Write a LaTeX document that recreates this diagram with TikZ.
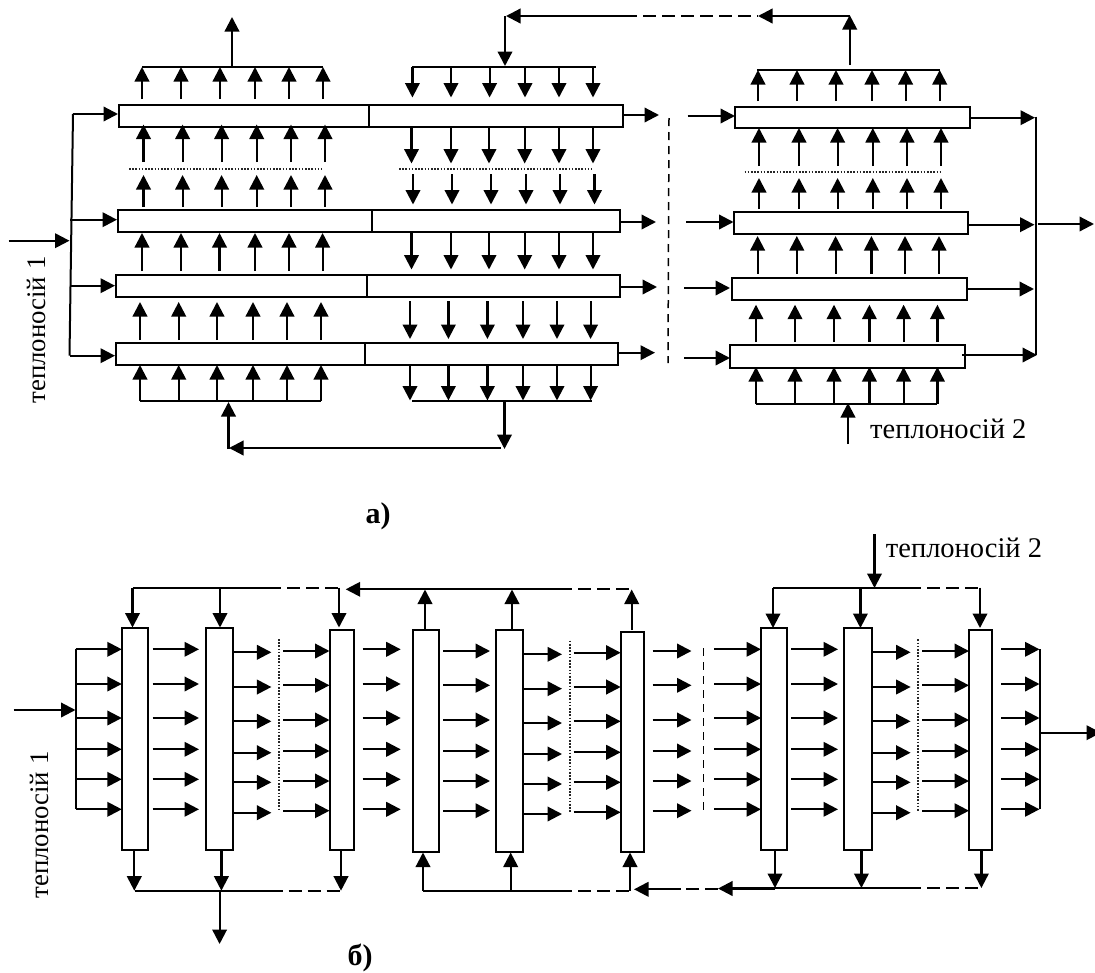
\documentclass[tikz,border=0pt]{standalone}
\usepackage{fontspec}
\setmainfont{Liberation Serif}
\usetikzlibrary{arrows.meta}
\newcounter{cn}
\tikzset{
  flowarrow/.style={line width=2.2pt,-{Triangle[length=14.5pt,width=14.5pt]}},
  wire/.style={line width=2.1pt},
  thinwire/.style={line width=2pt},
  brokenwire/.style={line width=1.7pt,dash pattern=on 13pt off 6pt},
  splitline/.style={line width=1.5pt,dash pattern=on 8pt off 6pt},
  dotline/.style={line width=1.3pt,dash pattern=on 1.6pt off 1.6pt,black!85},
  unitbox/.style={draw,line width=2pt,fill=white,inner sep=0pt,outer sep=0pt,rectangle},
  plabel/.style={font=\fontsize{28.5}{30}\selectfont,inner sep=0pt},
  rlabel/.style={font=\fontsize{26.8}{30}\selectfont,inner sep=0pt,rotate=90},
  blabel/.style={font=\fontsize{30}{32}\selectfont\bfseries,inner sep=0pt}
}
% named box from corner coordinates
\newcommand{\unit}[5]{%
  \pgfmathsetmacro{\ww}{#4-#2}\pgfmathsetmacro{\hh}{#5-#3}%
  \pgfmathsetmacro{\cx}{(#4+#2)/2}\pgfmathsetmacro{\cy}{(#5+#3)/2}%
  \node[unitbox,minimum width=\ww pt,minimum height=\hh pt] (#1) at (\cx,\cy) {};}
% connector between two named free ends
\newcommand{\conn}[5]{%
  \stepcounter{cn}%
  \coordinate (s\thecn) at (#2,#3);\coordinate (e\thecn) at (#4,#5);%
  \draw[#1] (s\thecn) -- (e\thecn);}
\newcommand{\vflow}[3]{\edef\vlist{#1}\foreach \x in \vlist {\conn{flowarrow}{\x}{#2}{\x}{#3}}}
\newcommand{\hflow}[3]{\edef\hlist{#3}\foreach \y in \hlist {\conn{flowarrow}{#1}{\y}{#2}{\y}}}
\begin{document}
\begin{tikzpicture}[x=1pt,y=-1pt]
\path[use as bounding box,fill=white] (0,0) rectangle (1095,972);
% ---------- panel a, left block
\unit{aa}{119}{105}{368.5}{127}\unit{ab}{368.5}{105}{623}{127}
\unit{ac}{118}{210}{372}{231.5}\unit{ad}{372}{210}{620}{231.5}
\unit{ae}{116}{275}{367}{297}\unit{af}{367}{275}{620}{297}
\unit{ag}{116}{343}{365}{364.5}\unit{ah}{365}{343}{617.5}{364.5}
\def\xa{142,181,220,255,289,323}
\vflow{\xa}{99}{67}
\conn{wire}{142}{67}{323}{67}
\conn{flowarrow}{232}{67}{232}{17}
\def\xb{143.5,182.6,221.6,256.7,291,325}
\vflow{\xb}{162}{124.5}
\conn{dotline}{129}{169}{322}{169}
\vflow{\xb}{207}{175}
\vflow{142,181,219.5,255,289,322.6}{271}{233}
\def\xc{140,178.7,217,253,287,321}
\vflow{\xc}{340}{302}
\vflow{\xc}{401}{365}
\conn{wire}{140}{401}{321}{401}
\conn{flowarrow}{228.5}{449}{228.5}{402}
\conn{flowarrow}{501}{448}{229}{448}
\conn{flowarrow}{504.5}{400}{504.5}{449}
% right half of the left block
\vflow{412.4,451,489.6,525,559,593}{67}{97.5}
\conn{wire}{412}{67}{596}{67}
\conn{flowarrow}{505}{16}{505}{66}
\conn{flowarrow}{624}{16}{506}{16}
\conn{brokenwire}{624}{16}{758}{16}
\conn{flowarrow}{850}{16}{758}{16}
\conn{flowarrow}{849.7}{65}{849.7}{15}
\def\xd{411.5,451,489,524.7,559,593}
\vflow{\xd}{126}{163.5}
\conn{dotline}{399}{169}{592}{169}
\vflow{413,452,491,526,560,594.5}{174}{204.5}
\vflow{\xd}{232}{269.5}
\def\xe{410,448.4,487.4,523,557,590.6}
\vflow{\xe}{301}{339}
\vflow{\xe}{365}{400.5}
\conn{wire}{412}{401}{592}{401}
\conn{flowarrow}{623}{115}{659}{115}
\conn{flowarrow}{620}{222}{656}{222}
\conn{flowarrow}{620}{287}{657}{287}
\conn{flowarrow}{618}{352.7}{655}{352.7}
\conn{splitline}{669}{118}{668}{363}
% inlet manifold
\conn{thinwire}{73}{114}{69.5}{355.7}
\conn{flowarrow}{73}{114}{118}{114}
\conn{flowarrow}{70}{219.7}{117}{219.7}
\conn{flowarrow}{69.5}{285.7}{115}{285.7}
\conn{flowarrow}{69.5}{355.7}{115}{355.7}
\conn{flowarrow}{8.7}{240.7}{69.5}{240.7}
\node[rlabel] (ta1) at (36,330) {теплоносій 1};
% ---------- panel a, right block
\unit{ai}{735}{106.7}{970}{128}
\unit{aj}{733.5}{212}{968}{233.7}
\unit{ak}{732}{277.7}{967}{299.7}
\unit{al}{730}{345}{965}{367.7}
\vflow{758,797,836,872,905.6,939.7}{101}{70}
\conn{wire}{757}{70}{940}{70}
\def\xf{759,799,837.6,872.8,907,941}
\vflow{\xf}{166}{128}
\conn{dotline}{744.5}{172}{940}{172}
\vflow{\xf}{209}{178}
\vflow{757.6,796.8,835.6,871.4,905,939}{273.7}{236}
\def\xg{756,795,834,869.4,903.6,937.4}
\vflow{\xg}{342}{304.7}
\vflow{\xg}{403.7}{367}
\conn{wire}{756}{403.7}{937.4}{403.7}
\conn{flowarrow}{848}{444}{848}{403}
\conn{flowarrow}{970}{117.7}{1035}{117.7}
\conn{flowarrow}{968}{224.7}{1034.5}{224.7}
\conn{flowarrow}{967}{289}{1034}{289}
\conn{flowarrow}{962}{355}{1037}{355}
\conn{thinwire}{1035.5}{116.7}{1035.5}{355}
\conn{flowarrow}{1037.5}{224}{1094}{224}
\conn{flowarrow}{687.6}{116}{735}{116}
\conn{flowarrow}{686}{222}{733.5}{222}
\conn{flowarrow}{684}{288}{730}{288}
\conn{flowarrow}{684}{358}{730}{358}
\node[plabel,anchor=base west] (ta2) at (870,438) {теплоносій 2};
\node[blabel] (la) at (378,516) {а)};
% ---------- panel b columns
\unit{b1}{121.8}{628.3}{148}{850.3}
\unit{b2}{205.7}{628.3}{232.9}{850.3}
\unit{b3}{330}{630}{353.6}{850.3}
\unit{b4}{412.9}{630}{439}{852}
\unit{b5}{496.4}{630}{523}{852}
\unit{b6}{620.7}{631.7}{644.4}{852}
\unit{b7}{761}{628.3}{787.4}{850.3}
\unit{b8}{844.4}{628.3}{871.7}{850.3}
\unit{b9}{969}{630}{992.4}{850.3}
% rows of horizontal arrows
\def\ya{649.3,684,718,749.3,779.3,809.3}
\def\yb{652.3,687,721.3,752.7,782.3,812.7}
\def\yc{651,685.3,720,751,781,810.7}
\conn{thinwire}{75.7}{649.3}{75.7}{809.3}
\hflow{75.7}{121.8}{\ya}
\conn{flowarrow}{13.6}{710}{75.5}{710}
\hflow{152.5}{199}{\ya}
\hflow{233}{271.4}{\yb}
\conn{dotline}{279}{639}{279}{811.7}
\hflow{283}{329.5}{\yc}
\hflow{362.5}{400.7}{\ya}
\hflow{443}{490}{\yc}
\hflow{523}{562}{654.3,688.7,723,754,784,814}
\conn{dotline}{570}{640.7}{570}{812.7}
\hflow{573.6}{620.7}{652.7,687,721.3,752.3,782.3,812.3}
\hflow{652.6}{691.5}{\yc}
\conn{splitline}{703.5}{648}{703.5}{810.7}
\hflow{714}{761}{\ya}
\hflow{791.3}{838}{\ya}
\hflow{871.7}{910.6}{\yb}
\conn{dotline}{918}{639.3}{918}{811.7}
\hflow{922}{969}{\yc}
\hflow{1001}{1039.5}{\ya}
\conn{thinwire}{1040}{649.3}{1040}{809.3}
\conn{flowarrow}{1040}{732.7}{1101}{732.7}
% top collectors
\conn{wire}{132.5}{587.7}{268}{587.7}
\conn{brokenwire}{268}{587.7}{339.3}{587.7}
\vflow{132.5,220,339}{587.7}{627.5}
\conn{flowarrow}{559}{589.3}{345.7}{589.3}
\conn{brokenwire}{559}{589.3}{632}{589.3}
\vflow{425,512,631.7}{630}{589.5}
\conn{wire}{773}{587.7}{908}{587.7}
\conn{brokenwire}{908}{587.7}{980}{587.7}
\vflow{773,860.4,980}{587.7}{628}
\conn{flowarrow}{874.5}{534}{874.5}{588}
\node[plabel,anchor=base west] (tb2) at (885.7,557) {теплоносій 2};
% bottom collectors
\conn{wire}{134.6}{890.7}{269.6}{890.7}
\conn{brokenwire}{269.6}{890.7}{340.4}{890.7}
\vflow{134.3,221.4,341}{850.3}{890.7}
\conn{flowarrow}{219.6}{890.7}{219.6}{944}
\conn{wire}{423}{890.7}{559}{890.7}
\conn{brokenwire}{559}{890.7}{630}{890.7}
\vflow{423,510.7,630}{890.7}{852.5}
\conn{wire}{775}{887.7}{908}{887.7}
\conn{brokenwire}{908}{887.7}{981.4}{887.7}
\vflow{775,861.4,981.4}{850.3}{888}
\conn{flowarrow}{775}{888.5}{718}{888.5}
\conn{brokenwire}{718}{889.3}{680.5}{889.3}
\conn{flowarrow}{680.5}{889.3}{634}{889.3}
\node[rlabel] (tb1) at (39,825) {теплоносій 1};
\node[blabel] (lb) at (360,958) {б)};
\end{tikzpicture}
\end{document}
